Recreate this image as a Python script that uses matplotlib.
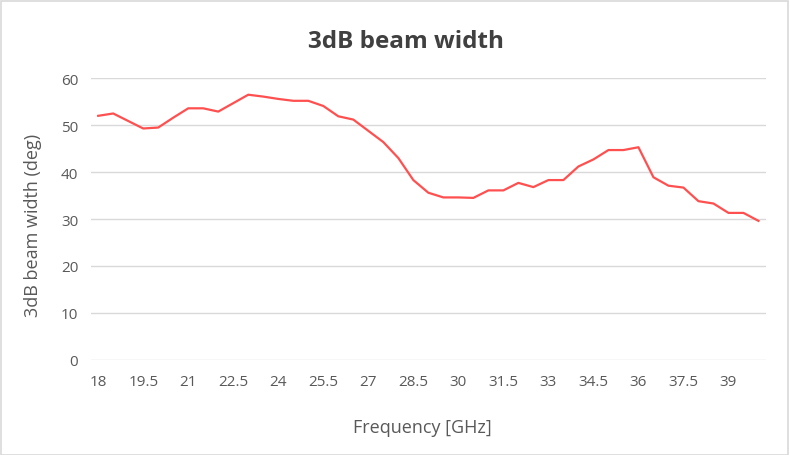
import matplotlib
matplotlib.use("Agg")
import matplotlib.pyplot as plt
from matplotlib.patches import Rectangle

frequency = [18 + 0.5 * i for i in range(45)]
beam_width = [52.0, 52.5, 50.9, 49.3, 49.5, 51.6, 53.6, 53.6, 52.9, 54.7,
              56.5, 56.1, 55.6, 55.2, 55.2, 54.1, 51.9, 51.2, 48.8, 46.4,
              43.0, 38.3, 35.6, 34.6, 34.6, 34.5, 36.1, 36.1, 37.7, 36.8,
              38.3, 38.3, 41.2, 42.7, 44.7, 44.7, 45.3, 38.9, 37.1, 36.7,
              33.8, 33.3, 31.3, 31.3, 29.6]
y_ticks = [0, 10, 20, 30, 40, 50, 60]
title = "3dB beam width"
x_label = "Frequency [GHz]"
y_label = "3dB beam width (deg)"

plt.rcParams['font.family'] = ['Open Sans', 'DejaVu Sans']
text_color = '#595959'

W, H = 790, 456
fig = plt.figure(figsize=(W / 100, H / 100), dpi=100)
fig.patches.append(Rectangle((0.5 / W, 0.5 / H), 1 - 2.5 / W, 1 - 2.5 / H,
                             transform=fig.transFigure, fill=False,
                             edgecolor='#D9D9D9', linewidth=1.2))

left, right = 90.7, 766
top, bottom = 79.3, 360.7
ax = fig.add_axes([left / W, 1 - bottom / H, (right - left) / W, (bottom - top) / H])

idx = list(range(len(frequency)))
ax.plot(idx, beam_width, color='#FF4F4F', linewidth=1.6, solid_joinstyle='round')

ax.set_xlim(-0.5, len(frequency) - 0.5)
ax.set_ylim(0, 60)
ax.set_yticks(y_ticks)
ax.set_yticklabels([str(v) for v in y_ticks])
tick_pos = idx[::3]
ax.set_xticks(tick_pos)
ax.set_xticklabels([('%g' % frequency[i]) for i in tick_pos])

for s in ax.spines.values():
    s.set_visible(False)
ax.grid(axis='y', color='#D9D9D9', linewidth=1.0)
ax.set_axisbelow(True)
ax.tick_params(axis='both', length=0, labelsize=11, labelcolor=text_color)
ax.tick_params(axis='x', pad=10)
ax.tick_params(axis='y', pad=9)

fig.text(406 / W, 1 - 42 / H, title, ha='center', va='center',
         fontsize=17.5, fontweight='bold', color='#404040')
fig.text(422 / W, 1 - 428 / H, x_label, ha='center', va='center',
         fontsize=13, color=text_color)
fig.text(33 / W, 1 - 225 / H, y_label, ha='center', va='center',
         rotation=90, fontsize=13, color=text_color)

fig.savefig('out.png', dpi=100)
